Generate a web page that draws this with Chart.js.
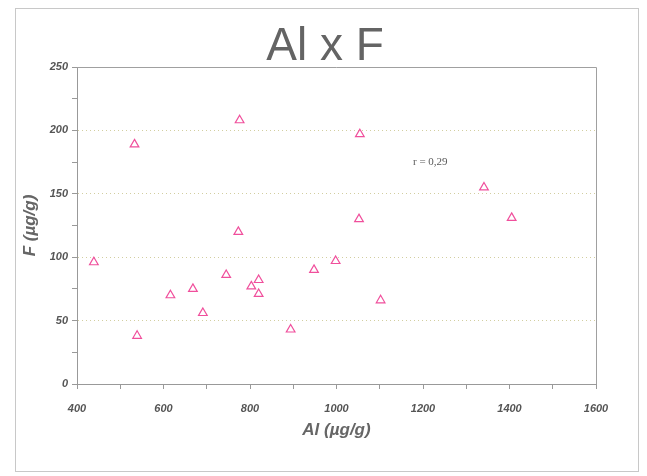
<!DOCTYPE html>
<html>
<head>
<meta charset="utf-8">
<script src="https://cdn.jsdelivr.net/npm/chart.js@4"></script>
<style>
	body { margin: 0; background: #fff; }
	#wrap { position: relative; width: 647px; height: 476px; }
	#frame { position: absolute; left: 15px; top: 8px; width: 622px; height: 462px; border: 1px solid #c8c8c8; }
	canvas { position: absolute; left: 0; top: 0; }
</style>
</head>
<body>
<div id="wrap">
	<div id="frame"></div>
	<canvas id="myChart" width="647" height="476"></canvas>
</div>
<script>
// Al (µg/g) vs F (µg/g)
const alValues = [439, 539, 616, 668, 691, 745, 773, 803, 820, 820, 894, 948, 998, 1102, 533, 776, 1054, 1341, 1052, 1405];
const fValues = [96, 38, 70, 75, 56, 86, 120, 77, 82, 71, 43, 90, 97, 66, 189, 208, 197, 155, 130, 131];
const xTicks = [400, 600, 800, 1000, 1200, 1400, 1600];
const yTicks = [0, 50, 100, 150, 200, 250];
const chartTitle = 'Al x F';
const xTitle = 'Al (µg/g)';
const yTitle = 'F (µg/g)';
const rLabel = 'r = 0,29';

const ctx = document.getElementById('myChart');
const tickFont = { family: 'Liberation Sans, Arial', size: 11, weight: 'bold', style: 'italic' };
const titleFont = { family: 'Liberation Sans, Arial', size: 17, weight: 'bold', style: 'italic' };

var points = alValues.map((v, i) => ({ x: v, y: fValues[i] }));

// title, r label and the top/right frame of the plot
const extras = {
	id: 'extras',
	afterDraw(chart) {
		const c = chart.ctx;
		const a = chart.chartArea;
		c.save();
		c.strokeStyle = '#a0a0a0';
		c.lineWidth = 1;
		c.beginPath();
		c.moveTo(a.left, a.top + 0.5);
		c.lineTo(a.right + 0.5, a.top + 0.5);
		c.lineTo(a.right + 0.5, a.bottom);
		c.stroke();

		c.fillStyle = '#646464';
		c.font = '46px "Liberation Sans", Arial';
		c.textAlign = 'center';
		c.textBaseline = 'middle';
		c.fillText(chartTitle, 325, 47);

		c.fillStyle = '#5a5a5a';
		c.font = '11px "Liberation Serif", serif';
		c.textAlign = 'left';
		c.fillText(rLabel, 413, 162);
		c.restore();
	}
};

new Chart(ctx, {
	type: 'scatter',
	data: {
		datasets: [{
			data: points,
			pointStyle: 'triangle',
			pointRadius: 5,
			pointHoverRadius: 5,
			borderWidth: 1.2,
			borderColor: '#f04f9c',
			backgroundColor: 'rgba(0,0,0,0)'
		}]
	},
	options: {
		responsive: false,
		animation: false,
		layout: { padding: { left: 0, top: 67, right: 51, bottom: 0 } },
		plugins: {
			legend: { display: false },
			tooltip: { enabled: false }
		},
		scales: {
			x: {
				min: 400,
				max: 1600,
				afterFit: (s) => { s.height = 92; },
				ticks: {
					stepSize: 100,
					autoSkip: false,
					maxRotation: 0,
					padding: 13,
					color: '#555',
					font: tickFont,
					callback: (v) => xTicks.includes(v) ? v : ''
				},
				grid: { drawOnChartArea: false, tickLength: 5, tickColor: '#999' },
				border: { color: '#999' },
				title: { display: true, text: xTitle, color: '#666', font: titleFont, padding: { top: 0, bottom: 35 } }
			},
			y: {
				min: 0,
				max: 250,
				afterFit: (s) => { s.width = 77; },
				ticks: {
					stepSize: 25,
					autoSkip: false,
					padding: 4,
					color: '#555',
					font: tickFont,
					callback: (v) => yTicks.includes(v) ? v : ''
				},
				grid: {
					tickLength: 5,
					tickColor: '#999',
					color: (c) => (c.tick && c.tick.value % 50 === 0 && c.tick.value > 0 && c.tick.value < 250) ? '#d2cea0' : 'rgba(0,0,0,0)'
				},
				border: { color: '#999', dash: [1, 3] },
				title: { display: true, text: yTitle, color: '#666', font: titleFont, padding: { top: 20, bottom: 0 } }
			}
		}
	},
	plugins: [extras]
});
</script>
</body>
</html>
